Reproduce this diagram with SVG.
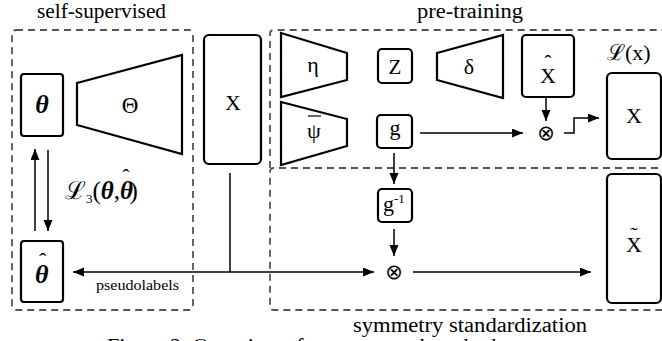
<svg xmlns="http://www.w3.org/2000/svg" width="662" height="341" viewBox="0 0 662 341">
  <style>
    text { fill: #000; }
    .box { fill: #fff; stroke: #000; stroke-width: 2.2; }
    .trap { fill: #fff; stroke: #000; stroke-width: 2.2; stroke-linejoin: miter; }
    .region { fill: none; stroke: #555; stroke-width: 1.8; stroke-dasharray: 7 5; }
    .conn { fill: none; stroke: #000; stroke-width: 1.5; }
    .otimes { font-family: "DejaVu Sans", sans-serif; }
    .script { font-family: "DejaVu Serif", serif; }
    .bi { font-weight: bold; font-style: italic; }
  </style>
  <defs>
    <marker id="arrow" markerUnits="userSpaceOnUse" markerWidth="12" markerHeight="10" refX="11" refY="4.5" orient="auto">
      <path d="M0,0 L11,4.5 L0,9 z" fill="#000"/>
    </marker>
  </defs>

  <rect width="662" height="341" fill="#fff"/>

  <g font-family="Liberation Serif, Times New Roman, serif">

  <!-- dashed regions -->
  <g id="regions">
    <rect class="region" x="12" y="30" width="181" height="280" rx="4"/>
    <path class="region" d="M270,168 V34 Q270,30 274,30 H670"/>
    <path class="region" d="M670,168 H274 Q270,168 270,172 V306 Q270,310 274,310 H670"/>
    <text x="37" y="18" font-size="20" textLength="129" lengthAdjust="spacingAndGlyphs">self-supervised</text>
    <text x="417" y="18" font-size="20" textLength="106" lengthAdjust="spacingAndGlyphs">pre-training</text>
    <text x="353" y="332" font-size="20" textLength="234" lengthAdjust="spacingAndGlyphs">symmetry standardization</text>
  </g>

  <!-- connectors -->
  <g id="connectors">
    <line class="conn" x1="35" y1="231" x2="35" y2="149" marker-end="url(#arrow)"/>
    <line class="conn" x1="48" y1="150" x2="48" y2="231" marker-end="url(#arrow)"/>
    <line class="conn" x1="230" y1="173" x2="230" y2="272"/>
    <line class="conn" x1="230" y1="272" x2="73" y2="272" marker-end="url(#arrow)"/>
    <line class="conn" x1="230" y1="272" x2="374" y2="272" marker-end="url(#arrow)"/>
    <line class="conn" x1="394" y1="153" x2="394" y2="184" marker-end="url(#arrow)"/>
    <line class="conn" x1="394" y1="229" x2="394" y2="256" marker-end="url(#arrow)"/>
    <line class="conn" x1="413" y1="272" x2="591" y2="272" marker-end="url(#arrow)"/>
    <line class="conn" x1="420" y1="133" x2="523" y2="133" marker-end="url(#arrow)"/>
    <line class="conn" x1="546" y1="97" x2="546" y2="121" marker-end="url(#arrow)"/>
    <path class="conn" d="M564,133 H574 V118 H599" marker-end="url(#arrow)"/>
    <text x="96" y="290" font-size="15" textLength="83" lengthAdjust="spacingAndGlyphs">pseudolabels</text>
    <text x="65" y="199" font-size="25"><tspan class="script">ℒ</tspan><tspan font-size="13" dy="4">3</tspan><tspan dy="-4">(</tspan><tspan class="bi">θ</tspan>,<tspan class="bi">θ</tspan><tspan font-size="21" dx="-10.5" dy="-15">ˆ</tspan><tspan dy="15">)</tspan></text>
  </g>

  <!-- self-supervised branch -->
  <g id="theta">
    <rect class="box" x="21" y="74" width="42" height="62" rx="3"/>
    <text class="bi" x="42" y="113" font-size="26" text-anchor="middle">θ</text>
  </g>
  <g id="theta-hat">
    <rect class="box" x="21" y="241" width="42" height="61" rx="3"/>
    <text class="bi" x="35" y="283" font-size="26">θ<tspan font-size="22" font-weight="normal" font-style="normal" dx="-9.5" dy="-15">ˆ</tspan></text>
  </g>
  <g id="Theta-net">
    <polygon class="trap" points="77,83 182,55 182,154 77,125"/>
    <text x="130" y="113" font-size="23" text-anchor="middle">Θ</text>
  </g>
  <g id="X-input">
    <rect class="box" x="204" y="35" width="57" height="129" rx="5"/>
    <text x="233" y="110" font-size="22" text-anchor="middle">X</text>
  </g>

  <!-- pre-training branch -->
  <g id="eta">
    <polygon class="trap" points="281,33 347,53 347,80 281,97"/>
    <text x="313" y="72" font-size="22" text-anchor="middle">η</text>
  </g>
  <g id="psi-bar">
    <polygon class="trap" points="281,102 347,119 347,146 281,165"/>
    <text x="314" y="138" font-size="22" text-anchor="middle">ψ</text>
    <line x1="308" y1="116" x2="321" y2="116" stroke="#000" stroke-width="1.2"/>
  </g>
  <g id="Z">
    <rect class="box" x="378" y="49" width="34" height="34" rx="4"/>
    <text x="395" y="74" font-size="21" text-anchor="middle">Z</text>
  </g>
  <g id="delta">
    <polygon class="trap" points="437,53 503,35 503,98 437,80"/>
    <text x="469" y="74" font-size="22" text-anchor="middle">δ</text>
  </g>
  <g id="X-hat">
    <rect class="box" x="522" y="35" width="52" height="62" rx="4"/>
    <text x="540" y="83" font-size="22">X<tspan dx="-11.6" dy="-13">ˆ</tspan></text>
  </g>
  <g id="g">
    <rect class="box" x="377" y="115" width="35" height="33" rx="4"/>
    <text x="395" y="135" font-size="22" text-anchor="middle">g</text>
  </g>
  <g id="mult-top">
    <text class="otimes" x="546" y="140" font-size="21" text-anchor="middle">⊗</text>
  </g>
  <g id="loss-x">
    <text x="607" y="60" font-size="22"><tspan class="script">ℒ</tspan>(x)</text>
  </g>
  <g id="X-target">
    <rect class="box" x="607" y="73" width="54" height="86" rx="5"/>
    <text x="634" y="123" font-size="22" text-anchor="middle">X</text>
  </g>

  <!-- symmetry standardization branch -->
  <g id="g-inv">
    <rect class="box" x="378" y="189" width="34" height="33" rx="4"/>
    <text x="383" y="211" font-size="22">g<tspan font-size="13" dy="-8">-1</tspan></text>
  </g>
  <g id="mult-bottom">
    <text class="otimes" x="394" y="279" font-size="21" text-anchor="middle">⊗</text>
  </g>
  <g id="X-tilde">
    <rect class="box" x="607" y="174" width="54" height="129" rx="5"/>
    <text x="626" y="252" font-size="22">X<tspan dx="-11.6" dy="-10">˜</tspan></text>
  </g>

  <!-- caption -->
  <text x="107" y="353" font-size="21" textLength="395" lengthAdjust="spacingAndGlyphs">Figure 2: Overview of our proposed method.</text>

  </g>
</svg>
